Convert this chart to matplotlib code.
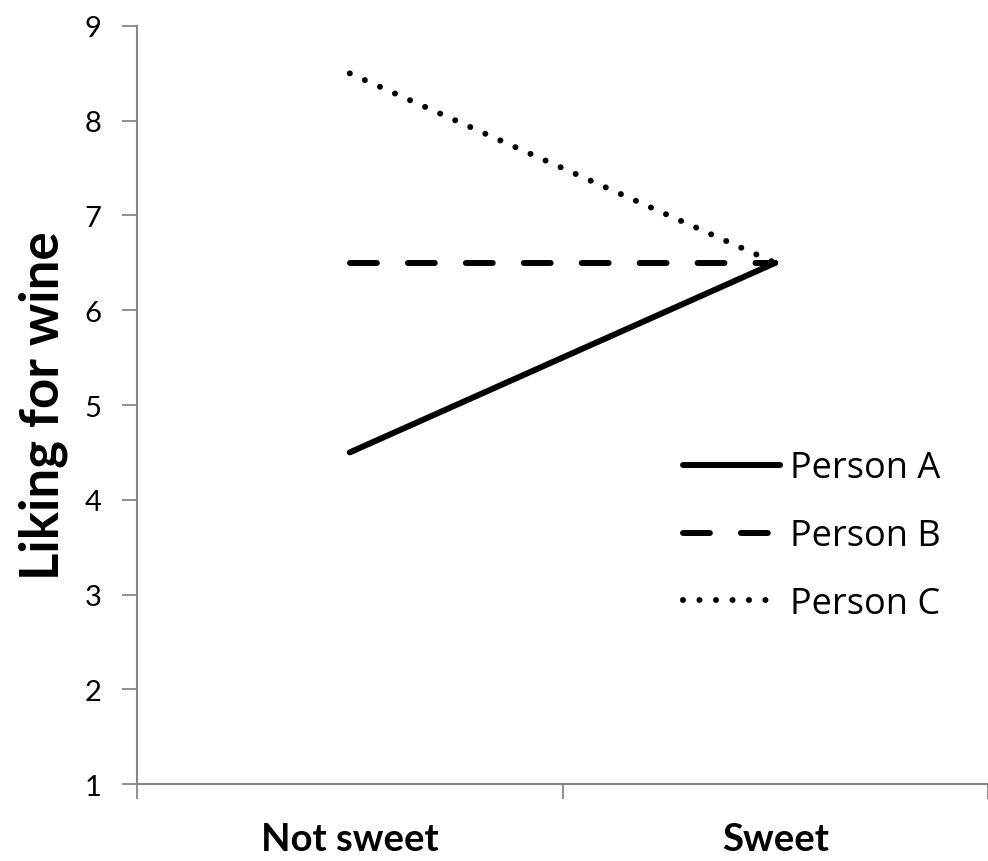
import matplotlib
matplotlib.use("Agg")
import matplotlib.pyplot as plt

categories = ["Not sweet", "Sweet"]
person_a = [4.5, 6.5]
person_b = [6.5, 6.5]
person_c = [8.5, 6.5]
series_names = ["Person A", "Person B", "Person C"]
y_ticks = [1, 2, 3, 4, 5, 6, 7, 8, 9]

plt.rcParams['font.family'] = ['Lato', 'DejaVu Sans']

fig = plt.figure(figsize=(9.88, 8.62), dpi=100)
ax = fig.add_axes([0.1387, 0.0893, 0.8613, 0.8794])

x = [0.5, 1.5]
LW = 4.3
ax.plot(x, person_a, color='black', lw=LW, solid_capstyle='round', label=series_names[0])
ax.plot(x, person_b, color='black', lw=LW, dashes=(4.5, 5.2), dash_capstyle='round', label=series_names[1])
ax.plot(x, person_c, color='black', lw=LW, dashes=(0.01, 2.75), dash_capstyle='round', label=series_names[2])

ax.set_xlim(0, 2)
ax.set_ylim(1, 9)
ax.set_yticks(y_ticks)
ax.set_xticks([0, 1, 2])
ax.set_xticklabels([])
ax.set_xticks(x, minor=True)
ax.set_xticklabels(categories, minor=True, fontsize=27.5, fontweight='bold')
ax.tick_params(axis='x', which='minor', length=0, pad=27)
ax.tick_params(axis='x', which='major', length=10.5, width=1.3, color='#868686', direction='out')
ax.tick_params(axis='y', length=10.5, width=1.3, color='#868686', direction='out', labelsize=21, pad=15)

for s in ['top', 'right']:
    ax.spines[s].set_visible(False)
for s in ['left', 'bottom']:
    ax.spines[s].set_color('#868686')
    ax.spines[s].set_linewidth(1.5)

ax.set_ylabel("Liking for wine", fontsize=38, fontweight='bold', labelpad=12)

leg = ax.legend(loc='upper left', bbox_to_anchor=(0.641, 0.440), frameon=False,
                prop={'family': ['Open Sans', 'DejaVu Sans'], 'size': 26},
                handlelength=2.7, handletextpad=0.28, labelspacing=0.88,
                borderpad=0, borderaxespad=0)

fig.savefig("out.png", dpi=100)
